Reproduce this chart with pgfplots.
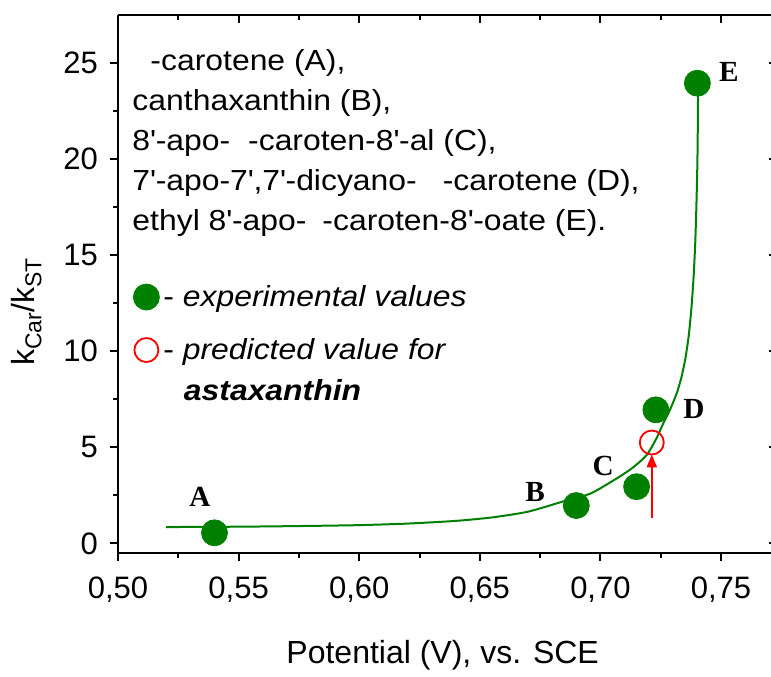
\documentclass[border=0pt]{standalone}
\usepackage{fontspec}
\setmainfont{Liberation Sans}
\newfontfamily\textblock{Liberation Sans}[FakeStretch=1.1]
\newfontfamily\serifbf{Liberation Serif}
\usepackage{pgfplots}
\pgfplotsset{compat=1.18}
\usetikzlibrary{arrows.meta,calc}
\definecolor{cgreen}{RGB}{0,128,0}
\definecolor{cred}{RGB}{255,0,0}
\newcommand\q{\textquotesingle}
\pgfplotsset{
  onept/.style={legend image code/.code={\draw[##1] plot coordinates {(0pt,0pt)};}},
  common/.style={
    width=329.25pt, height=269pt, scale only axis,
    xmin=0.5, xmax=0.773, ymin=-0.5, ymax=27.5,
    xtick={0.5,0.55,0.6,0.65,0.7,0.75}, ytick={0,5,10,15,20,25},
    minor x tick num=1,
    axis line style={line width=1pt, -},
    every tick/.style={line width=1pt, black},
    major tick length=4pt, minor tick length=2.5pt,
  }
}
\begin{document}
\begin{tikzpicture}
\begin{axis}[common, name=main, onept,
  axis x line*=bottom, axis y line*=left, tick align=outside,
  minor y tick num=1,
  tick label style={font=\fontsize{15.5}{18}\selectfont},
  /pgf/number format/assume math mode=true,
  x tick label style={/pgf/number format/.cd, use comma, fixed, fixed zerofill, precision=2, /tikz/yshift=-4.5pt},
  y tick label style={/pgf/number format/.cd, fixed, precision=0, /tikz/xshift=-2.5pt},
  xlabel={Potential (V), vs. SCE},
  ylabel={k\raisebox{-0.4ex}{\fontsize{11.5}{12}\selectfont Car}/k\raisebox{-0.4ex}{\fontsize{11.5}{12}\selectfont ST}},
  every axis x label/.style={at={(axis description cs:0.493,-0.19)}, anchor=center,
    font=\fontsize{16}{18}\selectfont},
  every axis y label/.style={at={(axis description cs:-0.139,0.448)}, anchor=center, rotate=90,
    font=\fontsize{16}{18}\selectfont},
  legend style={at={(axis description cs:0.0,0.4265)}, anchor=west, xshift=4.5pt,
    draw=none, fill=none, font=\textblock\fontsize{14.5}{16}\selectfont, row sep=10.5pt},
  legend cell align=left,
]
\addplot[cgreen, line width=1pt, smooth, tension=0.4, forget plot] coordinates {
(0.520,0.85) (0.540,0.86) (0.560,0.88) (0.580,0.91) (0.600,0.95)
(0.620,1.03) (0.640,1.17) (0.655,1.35) (0.670,1.65) (0.685,2.2)
(0.696,2.6) (0.707,3.4) (0.7135,3.95) (0.7192,4.6) (0.7233,5.48)
(0.7261,6.26) (0.7290,7.0) (0.7316,7.8) (0.7335,8.6) (0.7352,9.6)
(0.7366,10.8) (0.7377,12.2) (0.7386,13.8) (0.7393,15.6) (0.7398,17.6)
(0.7402,19.8) (0.7404,22) (0.7405,24)
};
\addplot[only marks, mark=*, mark size=6.5pt, color=cgreen,
  mark options={fill=cgreen, draw=cgreen}]
  coordinates {(0.54,0.55) (0.69,1.97) (0.715,2.95) (0.723,6.95) (0.7402,23.95)};
\addlegendentry{- \textit{experimental values}}
\addplot[cred, line width=1pt, -{Triangle[length=6.5pt,width=5pt]}, forget plot]
  coordinates {(0.7213,1.3) (0.7213,4.63)};
\addplot[only marks, mark=o, mark size=6pt, color=cred, mark options={line width=0.9pt}]
  coordinates {(0.7213,5.25)};
\addlegendentry{- \textit{predicted value for}}
\node[font=\serifbf\bfseries\fontsize{14.6}{16}\selectfont] at (axis cs:0.534,2.44) {A};
\node[font=\serifbf\bfseries\fontsize{14.6}{16}\selectfont] at (axis cs:0.6729,2.65) {B};
\node[font=\serifbf\bfseries\fontsize{14.6}{16}\selectfont] at (axis cs:0.7011,4.05) {C};
\node[font=\serifbf\bfseries\fontsize{14.6}{16}\selectfont] at (axis cs:0.7388,7.0) {D};
\node[font=\serifbf\bfseries\fontsize{14.6}{16}\selectfont] at (axis cs:0.7533,24.55) {E};
\node[anchor=north west, align=left, inner sep=0pt, font=\textblock\fontsize{14.5}{20}\selectfont]
  at (axis description cs:0.0214,0.9368) {%
\hspace*{9pt}-carotene (A),\\
canthaxanthin (B),\\
8\q-apo-\hspace{9pt}-caroten-8\q-al (C),\\
7\q-apo-7\q,7\q-dicyano-\hspace{13pt}-carotene (D),\\
ethyl 8\q-apo-\hspace{8pt}-caroten-8\q-oate (E).};
\node[anchor=west, inner sep=0pt, font=\textblock\fontsize{14.5}{16}\selectfont\bfseries\itshape]
  at (axis description cs:0.0995,0.303) {astaxanthin};
\end{axis}
\begin{axis}[common,
  axis x line*=top, axis y line*=right, tick align=inside,
  xticklabels={}, yticklabels={},
]
\end{axis}
\pgfresetboundingbox
\path ($(main.south west)+(-59pt,-62pt)$) rectangle ($(main.north east)+(-2.75pt,7.5pt)$);
\end{tikzpicture}
\end{document}
